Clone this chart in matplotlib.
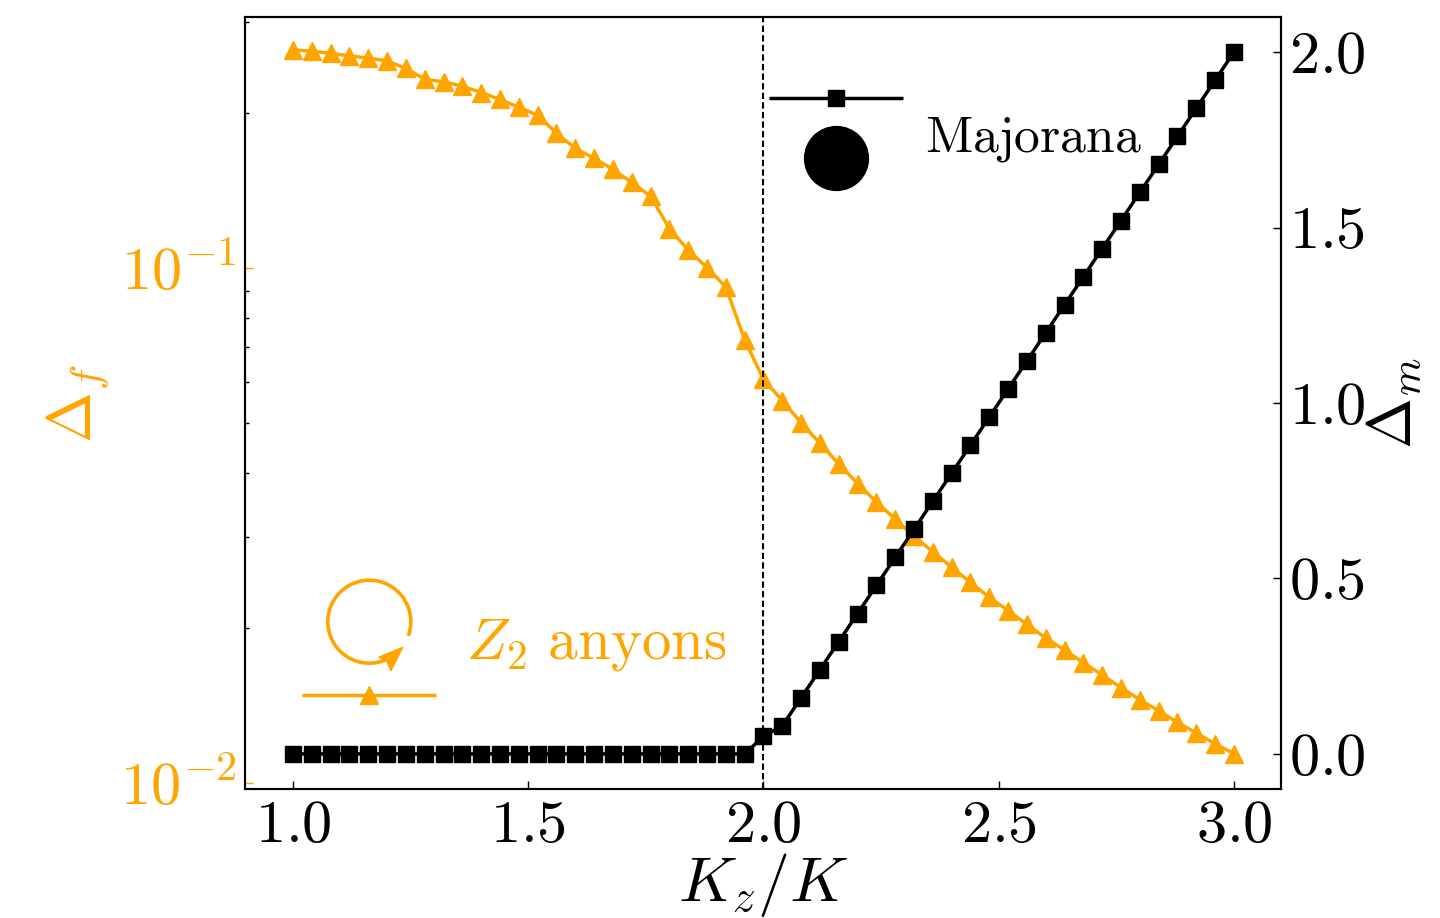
import matplotlib
matplotlib.use("Agg")
import matplotlib.pyplot as plt
from matplotlib.lines import Line2D
from matplotlib.patches import Arc, Polygon
from matplotlib.ticker import NullFormatter, LogLocator
from matplotlib.transforms import IdentityTransform

plt.rcParams['mathtext.fontset'] = 'cm'
plt.rcParams['font.family'] = 'cmr10'
plt.rcParams['axes.formatter.use_mathtext'] = True

kz = [1.00, 1.04, 1.08, 1.12, 1.16, 1.20, 1.24, 1.28, 1.32, 1.36, 1.40, 1.44, 1.48,
      1.52, 1.56, 1.60, 1.64, 1.68, 1.72, 1.76, 1.80, 1.84, 1.88, 1.92, 1.96, 2.00,
      2.04, 2.08, 2.12, 2.16, 2.20, 2.24, 2.28, 2.32, 2.36, 2.40, 2.44, 2.48, 2.52,
      2.56, 2.60, 2.64, 2.68, 2.72, 2.76, 2.80, 2.84, 2.88, 2.92, 2.96, 3.00]
delta_f = [0.2644, 0.2632, 0.2605, 0.2577, 0.2550, 0.2520, 0.2435, 0.2321, 0.2294,
           0.2250, 0.2187, 0.2120, 0.2048, 0.1976, 0.1823, 0.1704, 0.1630, 0.1551,
           0.1463, 0.1376, 0.1191, 0.1081, 0.1000, 0.0917, 0.0724, 0.0607, 0.0552,
           0.0500, 0.0456, 0.0416, 0.0381, 0.0351, 0.0325, 0.0301, 0.0281, 0.0262,
           0.0245, 0.0229, 0.0216, 0.0203, 0.0191, 0.0181, 0.0171, 0.0162, 0.0153,
           0.0145, 0.0138, 0.0131, 0.0125, 0.0119, 0.0114]
delta_m = [0.00, 0.00, 0.00, 0.00, 0.00, 0.00, 0.00, 0.00, 0.00, 0.00, 0.00, 0.00, 0.00,
           0.00, 0.00, 0.00, 0.00, 0.00, 0.00, 0.00, 0.00, 0.00, 0.00, 0.00, 0.00, 0.05,
           0.08, 0.16, 0.24, 0.32, 0.40, 0.48, 0.56, 0.64, 0.72, 0.80, 0.88, 0.96, 1.04,
           1.12, 1.20, 1.28, 1.36, 1.44, 1.52, 1.60, 1.68, 1.76, 1.84, 1.92, 2.00]
x_ticks = [1.0, 1.5, 2.0, 2.5, 3.0]
x_labels = ['$1.0$', '$1.5$', '$2.0$', '$2.5$', '$3.0$']
left_ticks = [0.1, 0.01]
left_labels = ['$10^{-1}$', '$10^{-2}$']
right_ticks = [0.0, 0.5, 1.0, 1.5, 2.0]
right_labels = ['$0.0$', '$0.5$', '$1.0$', '$1.5$', '$2.0$']

ORANGE = '#FFA500'
W, H = 1440, 918
FS = 43.5
LS = 44

fig = plt.figure(figsize=(W / 100, H / 100), dpi=100)
ax = fig.add_axes([245 / W, 1 - 789 / H, (1281 - 245) / W, (789 - 17) / H])
ax.set_yscale('log')
ax.plot(kz, delta_f, color=ORANGE, marker='^', ms=13, lw=2.5)
ax.axvline(2.0, color='k', lw=1.5, ls=(0, (3.0, 1.6)))
ax.set_xlim(0.898, 3.1)
ax.set_ylim(0.00973, 0.3065)
ax.set_xticks(x_ticks, x_labels)
ax.set_yticks(left_ticks, left_labels)
ax.yaxis.set_minor_locator(LogLocator(base=10, subs=range(2, 10), numticks=12))
ax.yaxis.set_minor_formatter(NullFormatter())
ax.tick_params(axis='x', which='major', direction='in', length=5.5, width=1,
               labelsize=FS, pad=8)
ax.tick_params(axis='y', which='major', direction='in', length=5.5, width=1,
               labelsize=FS, pad=6, color=ORANGE, labelcolor=ORANGE)
ax.tick_params(axis='y', which='minor', direction='in', length=3, width=1, color='k')
ax.set_xlabel('$K_z/K$', fontsize=46, labelpad=-2)
ax.set_ylabel(r'$\Delta_f$', fontsize=LS, color=ORANGE, labelpad=6)

ax2 = ax.twinx()
ax2.plot(kz, delta_m, color='k', marker='s', ms=11.5, lw=2.5)
ax2.set_ylim(-0.1, 2.1)
ax2.set_yticks(right_ticks, right_labels)
ax2.tick_params(axis='y', which='major', direction='in', length=5.5, width=1,
                labelsize=FS, pad=5.5)
ax2.set_ylabel(r'$\Delta_m$', fontsize=LS, labelpad=-1)
for a in (ax, ax2):
    for s in a.spines.values():
        s.set_linewidth(1.5)


def px(x, y):
    return x, H - y


ident = IdentityTransform()
x0, y0 = px(769, 98)
x1, y1 = px(903, 98)
ax2.add_artist(Line2D([x0, x1], [y0, y1], color='k', lw=2.5, transform=ident,
                      solid_capstyle='butt'))
cx, cy = px(836, 98)
ax2.add_artist(Line2D([cx], [cy], color='k', marker='s', ms=11.5, transform=ident))
cx, cy = px(835.5, 158)
ax2.add_artist(Line2D([cx], [cy], color='k', marker='o', ms=46, transform=ident))
x0, y0 = px(301.5, 695)
x1, y1 = px(436, 695)
ax2.add_artist(Line2D([x0, x1], [y0, y1], color=ORANGE, lw=2.5, transform=ident,
                      solid_capstyle='butt'))
cx, cy = px(368.5, 695)
ax2.add_artist(Line2D([cx], [cy], color=ORANGE, marker='^', ms=13, transform=ident))

cx, cy = px(369.3, 621.7)
arc = Arc((cx, cy), 83, 83, theta1=-20, theta2=296, color=ORANGE, lw=2.6,
          transform=ident, clip_on=False)
ax2.add_patch(arc)
head = Polygon([px(402.7, 647.3), px(378.7, 657.3), px(386.5, 660.5), px(391, 670.7)],
               closed=True, color=ORANGE, transform=ident, clip_on=False)
ax2.add_patch(head)

tx, ty = px(466, 645)
fig.text(tx / W, ty / H, r'$Z_2\ \mathrm{anyons}$', color=ORANGE, fontsize=42.5,
         ha='left', va='center')
tx, ty = px(925, 139)
fig.text(tx / W, ty / H, r'$\mathrm{Majorana}$', color='k', fontsize=37.2,
         ha='left', va='center')

fig.savefig('out.png', dpi=100)
